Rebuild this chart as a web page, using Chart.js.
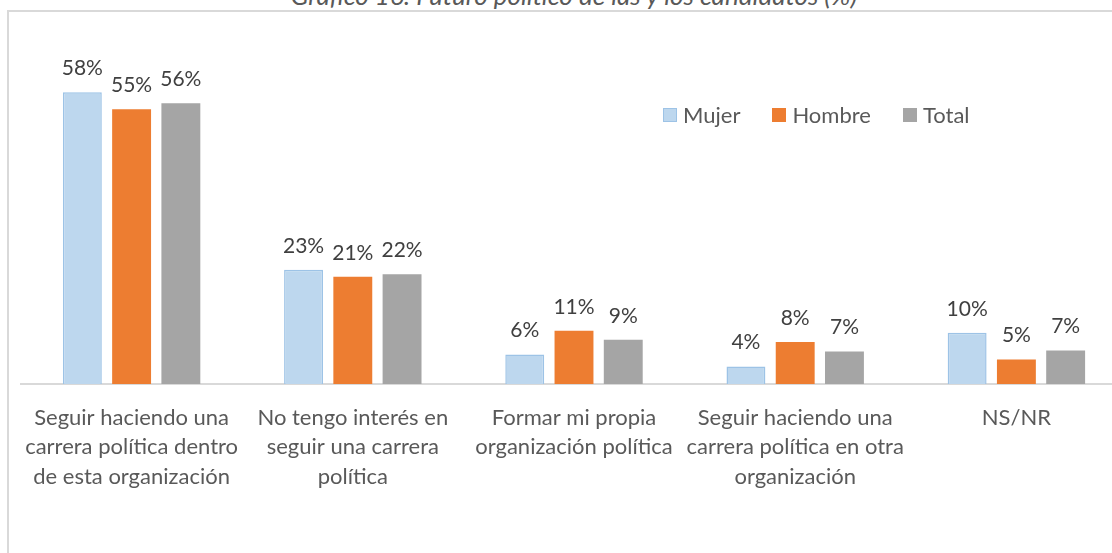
<!DOCTYPE html>
<html>
<head>
<meta charset="utf-8">
<script src="https://cdn.jsdelivr.net/npm/chart.js@4/dist/chart.umd.min.js"></script>
<style>
  html, body { margin: 0; padding: 0; background: #fff; overflow: hidden; }
  #wrap { position: relative; width: 1112px; height: 553px; overflow: hidden; }
  #frame { position: absolute; left: 7px; top: 10px; width: 1200px; height: 700px; border: 2px solid #d9d9d9; box-sizing: border-box; }
  #title { position: absolute; left: 0; width: 1148px; top: -20px; text-align: center; font: italic 26px Lato, sans-serif; color: #595959; line-height: 30px; white-space: nowrap; }
  #chart { position: absolute; left: 0; top: 0; }
  #legend { position: absolute; left: 663px; top: 101px; font: 22px Lato, sans-serif; color: #595959; display: flex; white-space: nowrap; }
  .item { display: flex; align-items: center; margin-right: 32px; }
  .box { width: 14px; height: 14px; margin-right: 6px; box-sizing: border-box; }
</style>
</head>
<body>
<div id="wrap">
  <div id="frame"></div>
  <div id="title">Gráfico 16: Futuro político de las y los candidatos (%)</div>
  <canvas id="chart" width="1132" height="553"></canvas>
  <div id="legend"></div>
</div>
<script>
const categories = [
  ["Seguir haciendo una", "carrera política dentro", "de esta organización"],
  ["No tengo interés en", "seguir una carrera", "política"],
  ["Formar mi propia", "organización política"],
  ["Seguir haciendo una", "carrera política en otra", "organización"],
  ["NS/NR"]
];
const mujer = [58.2, 22.8, 5.9, 3.5, 10.2];
const hombre = [54.8, 21.4, 10.6, 8.4, 4.9];
const total = [56, 21.9, 8.8, 6.5, 6.7];
const seriesNames = ["Mujer", "Hombre", "Total"];

const FONT = "Lato, sans-serif";
const TEXT = "#595959";

// percentage labels above each bar
const valueLabels = {
  id: "valueLabels",
  afterDatasetsDraw(chart) {
    const ctx = chart.ctx;
    ctx.save();
    ctx.font = "21px " + FONT;
    ctx.fillStyle = "#404040";
    ctx.textAlign = "center";
    ctx.textBaseline = "alphabetic";
    chart.data.datasets.forEach((ds, i) => {
      chart.getDatasetMeta(i).data.forEach((bar, j) => {
        ctx.fillText(Math.round(ds.data[j]) + "%", bar.x, bar.y - 17);
      });
    });
    ctx.restore();
  }
};

const colors = [
  { bg: "#bdd7ee", border: "#9dc3e6", bw: 1.5 },
  { bg: "#ed7d31", border: "#ed7d31", bw: 0 },
  { bg: "#a5a5a5", border: "#a5a5a5", bw: 0 }
];

const legend = document.getElementById("legend");
seriesNames.forEach((name, i) => {
  const item = document.createElement("div");
  item.className = "item";
  const box = document.createElement("span");
  box.className = "box";
  box.style.background = colors[i].bg;
  if (colors[i].bw) box.style.border = "1.5px solid " + colors[i].border;
  item.appendChild(box);
  item.appendChild(document.createTextNode(name));
  legend.appendChild(item);
});

new Chart(document.getElementById("chart").getContext("2d"), {
  type: "bar",
  data: {
    labels: categories,
    datasets: [mujer, hombre, total].map((d, i) => ({
      label: seriesNames[i],
      data: d,
      backgroundColor: colors[i].bg,
      borderColor: colors[i].border,
      borderWidth: colors[i].bw,
      categoryPercentage: 0.668,
      barPercentage: 0.79
    }))
  },
  options: {
    responsive: false,
    animation: false,
    layout: { padding: { left: 21, right: 5, top: 33, bottom: 0 } },
    plugins: { legend: { display: false }, tooltip: { enabled: false } },
    scales: {
      x: {
        grid: { display: false },
        border: { color: "#d9d9d9", width: 2 },
        ticks: {
          color: TEXT,
          padding: 11,
          maxRotation: 0,
          autoSkip: false,
          font: { family: FONT, size: 22, lineHeight: "29.5px" }
        },
        afterFit(scale) { scale.height = 169; }
      },
      y: { display: false, min: 0, max: 70 }
    }
  },
  plugins: [valueLabels]
});
</script>
</body>
</html>
